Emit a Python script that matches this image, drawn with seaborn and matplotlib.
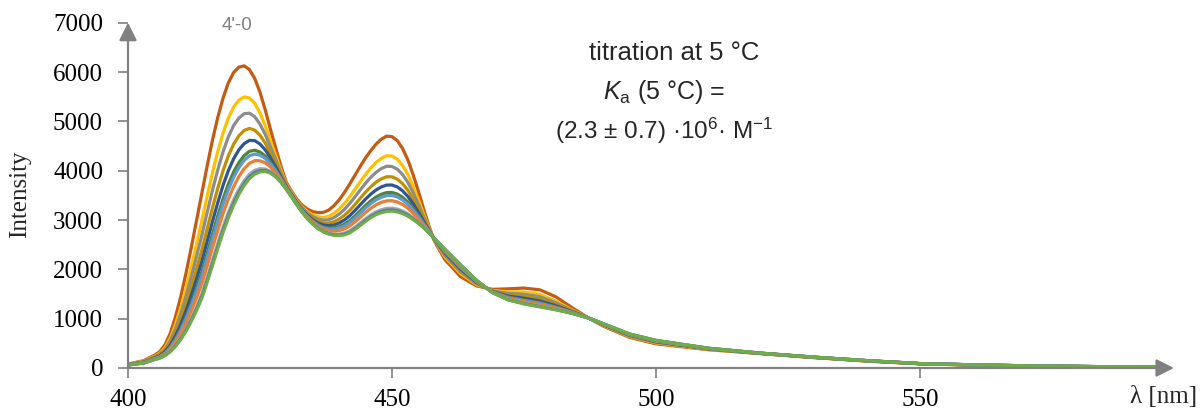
import matplotlib
matplotlib.use("Agg")
import matplotlib.pyplot as plt
import seaborn as sns
import pandas as pd

wavelength = [400, 403, 405, 406, 407, 408, 409, 410, 411, 412, 413,
              414, 415, 416, 417, 418, 419, 420, 421, 422, 423,
              424, 425, 426, 427, 428, 429, 430, 431, 432, 433,
              434, 435, 436, 437, 438, 439, 440, 441, 442, 443,
              444, 445, 446, 447, 448, 449, 450, 451, 452, 453,
              454, 455, 456, 457, 458,
              460, 463, 466, 469, 472, 475, 478, 481, 484, 487, 490,
              495, 500,
              510, 520, 530, 540, 550, 560, 570, 580, 590,
              595]

s_darkorange = [80, 150, 260, 330, 470, 700, 1040, 1450, 1930, 2450, 3000,
                3550, 4100, 4620, 5080, 5470, 5780, 5990, 6100, 6125, 6050,
                5870, 5590, 5230, 4830, 4450, 4080, 3760, 3580, 3420, 3300,
                3220, 3170, 3150, 3155, 3200, 3290, 3410, 3560, 3730, 3910,
                4090, 4260, 4410, 4540, 4640, 4700, 4690, 4610, 4450, 4220,
                3920, 3580, 3220, 2880, 2580,
                2200, 1850, 1665, 1595, 1605, 1620, 1585, 1445, 1230, 1030, 850,
                620, 490,
                370, 290, 210, 140, 85, 60, 40, 30, 20,
                15]
s_gold = [75, 137, 237, 296, 413, 604, 884, 1224, 1623, 2060, 2524,
          2996, 3486, 3960, 4388, 4763, 5068, 5291, 5429, 5495, 5475,
          5366, 5170, 4906, 4601, 4299, 3997, 3724, 3550, 3390, 3262,
          3169, 3104, 3066, 3052, 3074, 3134, 3222, 3336, 3473, 3624,
          3778, 3926, 4056, 4168, 4253, 4304, 4297, 4234, 4107, 3924,
          3683, 3411, 3121, 2844, 2593,
          2255, 1912, 1691, 1574, 1543, 1541, 1492, 1358, 1184, 1027, 863,
          638, 508,
          378, 293, 213, 143, 86, 61, 41, 31, 21,
          16]
s_gray = [72, 130, 224, 278, 382, 552, 800, 1102, 1458, 1850, 2268,
          2698, 3156, 3604, 4016, 4382, 4684, 4914, 5068, 5155, 5166,
          5094, 4944, 4732, 4478, 4218, 3952, 3704, 3534, 3374, 3242,
          3142, 3068, 3020, 2997, 3006, 3050, 3120, 3216, 3334, 3470,
          3610, 3746, 3866, 3968, 4044, 4090, 4086, 4032, 3922, 3764,
          3556, 3320, 3068, 2824, 2600,
          2284, 1946, 1708, 1566, 1512, 1495, 1444, 1324, 1170, 1026, 870,
          648, 518,
          382, 294, 214, 144, 87, 62, 42, 31, 21,
          16]
s_darkgold = [69, 123, 211, 260, 351, 500, 716, 980, 1293, 1640, 2012,
              2400, 2826, 3248, 3644, 4001, 4300, 4537, 4707, 4816, 4857,
              4822, 4718, 4558, 4355, 4137, 3907, 3684, 3518, 3358, 3222,
              3115, 3032, 2975, 2942, 2938, 2966, 3019, 3096, 3195, 3316,
              3442, 3566, 3676, 3768, 3835, 3877, 3875, 3830, 3737, 3604,
              3429, 3229, 3015, 2804, 2607,
              2313, 1980, 1725, 1558, 1481, 1450, 1396, 1290, 1156, 1025, 877,
              658, 528,
              386, 295, 215, 145, 88, 63, 43, 31, 21,
              17]
s_darkblue = [67, 118, 202, 246, 327, 460, 650, 885, 1163, 1475, 1811,
              2166, 2566, 2969, 3351, 3702, 3999, 4242, 4423, 4549, 4614,
              4609, 4540, 4421, 4258, 4073, 3872, 3669, 3505, 3345, 3206,
              3093, 3004, 2939, 2898, 2885, 2900, 2939, 3001, 3087, 3195,
              3310, 3425, 3526, 3611, 3672, 3709, 3709, 3671, 3592, 3479,
              3329, 3158, 2973, 2789, 2612,
              2336, 2006, 1738, 1551, 1457, 1414, 1359, 1264, 1145, 1024, 882,
              665, 535,
              389, 296, 216, 146, 88, 63, 43, 31, 21,
              17]
s_darkgreen = [65, 113, 193, 233, 305, 423, 590, 798, 1045, 1325, 1628,
               1953, 2330, 2715, 3085, 3430, 3725, 3973, 4165, 4306, 4393,
               4415, 4379, 4296, 4170, 4015, 3840, 3655, 3494, 3334, 3191,
               3074, 2979, 2906, 2859, 2836, 2840, 2866, 2915, 2988, 3085,
               3190, 3296, 3390, 3468, 3523, 3556, 3558, 3526, 3460, 3365,
               3238, 3093, 2935, 2775, 2617,
               2357, 2030, 1750, 1545, 1435, 1381, 1325, 1240, 1135, 1023, 887,
               672, 542,
               392, 297, 217, 147, 89, 64, 44, 32, 22,
               17]
s_lightblue = [64, 111, 189, 227, 296, 408, 566, 763, 998, 1265, 1554,
               1867, 2236, 2613, 2979, 3321, 3615, 3865, 4062, 4209, 4304,
               4337, 4314, 4246, 4135, 3992, 3827, 3649, 3489, 3329, 3185,
               3066, 2969, 2893, 2843, 2817, 2816, 2837, 2881, 2948, 3041,
               3142, 3245, 3336, 3410, 3463, 3495, 3497, 3468, 3407, 3319,
               3201, 3067, 2920, 2769, 2619,
               2366, 2040, 1755, 1543, 1426, 1368, 1311, 1230, 1131, 1022, 889,
               675, 545,
               394, 298, 218, 148, 89, 64, 44, 32, 22,
               17]
s_orange = [63, 107, 183, 218, 281, 382, 524, 702, 915, 1160, 1426,
            1718, 2070, 2436, 2792, 3131, 3424, 3677, 3881, 4040, 4149,
            4202, 4201, 4159, 4073, 3951, 3805, 3640, 3481, 3321, 3175,
            3052, 2951, 2871, 2815, 2783, 2774, 2787, 2820, 2879, 2964,
            3058, 3155, 3240, 3310, 3359, 3389, 3391, 3367, 3315, 3240,
            3137, 3021, 2893, 2760, 2623,
            2381, 2056, 1763, 1538, 1411, 1346, 1288, 1214, 1124, 1021, 893,
            680, 550,
            396, 299, 219, 149, 89, 64, 44, 32, 22,
            18]
s_lightgray = [61, 102, 174, 205, 259, 345, 464, 615, 797, 1010, 1243,
               1505, 1834, 2182, 2526, 2859, 3150, 3408, 3623, 3797, 3928,
               4008, 4040, 4035, 3985, 3893, 3773, 3626, 3470, 3310, 3161,
               3033, 2925, 2838, 2776, 2734, 2714, 2714, 2734, 2780, 2854,
               2938, 3026, 3104, 3167, 3210, 3236, 3240, 3223, 3183, 3126,
               3046, 2956, 2855, 2746, 2628,
               2402, 2080, 1775, 1532, 1389, 1313, 1254, 1190, 1114, 1020, 898,
               687, 557,
               399, 300, 220, 150, 90, 65, 45, 32, 22,
               18]
s_blue = [60, 101, 171, 202, 253, 336, 449, 593, 768, 973, 1197,
          1452, 1775, 2118, 2460, 2791, 3081, 3340, 3559, 3736, 3873,
          3959, 3999, 4004, 3963, 3879, 3765, 3622, 3467, 3307, 3157,
          3028, 2919, 2830, 2766, 2722, 2699, 2696, 2713, 2755, 2827,
          2908, 2994, 3070, 3131, 3172, 3198, 3203, 3187, 3150, 3097,
          3024, 2940, 2846, 2742, 2629,
          2407, 2086, 1778, 1531, 1383, 1305, 1245, 1184, 1112, 1020, 899,
          689, 559,
          400, 300, 220, 150, 90, 65, 45, 32, 22,
          18]
s_green = [60, 100, 170, 200, 250, 330, 440, 580, 750, 950, 1170,
           1420, 1740, 2080, 2420, 2750, 3040, 3300, 3520, 3700, 3840,
           3930, 3975, 3985, 3950, 3870, 3760, 3620, 3465, 3305, 3155,
           3025, 2915, 2825, 2760, 2715, 2690, 2685, 2700, 2740, 2810,
           2890, 2975, 3050, 3110, 3150, 3175, 3180, 3165, 3130, 3080,
           3010, 2930, 2840, 2740, 2630,
           2410, 2090, 1780, 1530, 1380, 1300, 1240, 1180, 1110, 1020, 900,
           690, 560,
           400, 300, 220, 150, 90, 65, 45, 32, 22,
           18]

series_names = ["s1", "s2", "s3", "s4", "s5", "s6", "s7", "s8", "s9", "s10", "s11"]
series_values = [s_darkorange, s_gold, s_gray, s_darkgold, s_darkblue, s_darkgreen,
                 s_lightblue, s_orange, s_lightgray, s_blue, s_green]
series_colors = ["#C55A11", "#FFC000", "#8C8C8C", "#BF9000", "#2F5597", "#548235",
                 "#5B9BD5", "#ED7D31", "#A5A5A5", "#4472C4", "#70AD47"]

x_ticks = [400, 450, 500, 550]
y_ticks = [0, 1000, 2000, 3000, 4000, 5000, 6000, 7000]

rows = []
for name, vals in zip(series_names, series_values):
    for w, v in zip(wavelength, vals):
        rows.append({"wl": w, "I": v, "series": name})
df = pd.DataFrame(rows)

sns.set_theme(style="white")
plt.rcParams["font.family"] = ["Liberation Serif", "DejaVu Serif"]
plt.rcParams["mathtext.fontset"] = "custom"
plt.rcParams["mathtext.rm"] = "Liberation Sans"
plt.rcParams["mathtext.it"] = "Liberation Sans:italic"

W, H = 1202, 412
fig = plt.figure(figsize=(W / 100, H / 100), dpi=100)
left_px, right_px, top_px, bottom_px = 128, 1174, 22.7, 368
ax = fig.add_axes([left_px / W, 1 - bottom_px / H, (right_px - left_px) / W, (bottom_px - top_px) / H])

sns.lineplot(data=df, x="wl", y="I", hue="series", hue_order=series_names,
             palette=dict(zip(series_names, series_colors)), legend=False,
             linewidth=2.3, ax=ax, sort=True, estimator=None)
for ln in ax.get_lines():
    ln.set_solid_joinstyle("round")

ax.set_xlim(400, 400 + (right_px - left_px) / 5.28)
ax.set_ylim(0, 7000)
ax.set_xticks(x_ticks)
ax.set_yticks(y_ticks)
ax.set_xticklabels([str(t) for t in x_ticks])
ax.set_yticklabels([str(t) for t in y_ticks])
for s in ax.spines.values():
    s.set_visible(False)
axis_col = "#808080"
ax.tick_params(axis="both", which="both", direction="out", length=7, width=1.2,
               color=axis_col, labelsize=18, labelcolor="black",
               bottom=True, left=True)
ax.tick_params(axis="x", pad=8)
ax.tick_params(axis="y", pad=11)
ax.annotate("", xy=(1, 0), xytext=(0, 0), xycoords="axes fraction",
            arrowprops=dict(arrowstyle="-|>,head_length=0.9,head_width=0.45", color=axis_col, lw=1.6,
                            shrinkA=0, shrinkB=0), annotation_clip=False)
ax.annotate("", xy=(0, 1), xytext=(0, 0), xycoords="axes fraction",
            arrowprops=dict(arrowstyle="-|>,head_length=0.9,head_width=0.45", color=axis_col, lw=1.6,
                            shrinkA=0, shrinkB=0), annotation_clip=False)

ax.set_xlabel("")
ax.set_ylabel("")
fig.text(20 / W, 1 - 194 / H, "Intensity", fontsize=18, rotation=90, ha="center", va="center")
fig.text(1164 / W, 1 - 397 / H, "λ [nm]", fontsize=18, ha="center", va="center")

sans = ["Liberation Sans", "DejaVu Sans"]
fig.text(237.5 / W, 1 - 26 / H, "4'-0", fontsize=13.5, color="#808080", ha="center", va="center", family=sans)

cx = 664 / W
fig.text(cx + 10 / W, 1 - 53 / H, "titration at 5 °C", fontsize=18.5, ha="center", va="center", family=sans)
fig.text(cx, 1 - 92 / H, r"$K_\mathregular{a}$ (5 °C) =", fontsize=18, ha="center", va="center", family=sans)
fig.text(cx, 1 - 131 / H, r"(2.3 ± 0.7) ·10$^\mathregular{6}$· M$^{\mathregular{−1}}$", fontsize=17.5,
         ha="center", va="center", family=sans)

fig.savefig("out.png", dpi=100)
